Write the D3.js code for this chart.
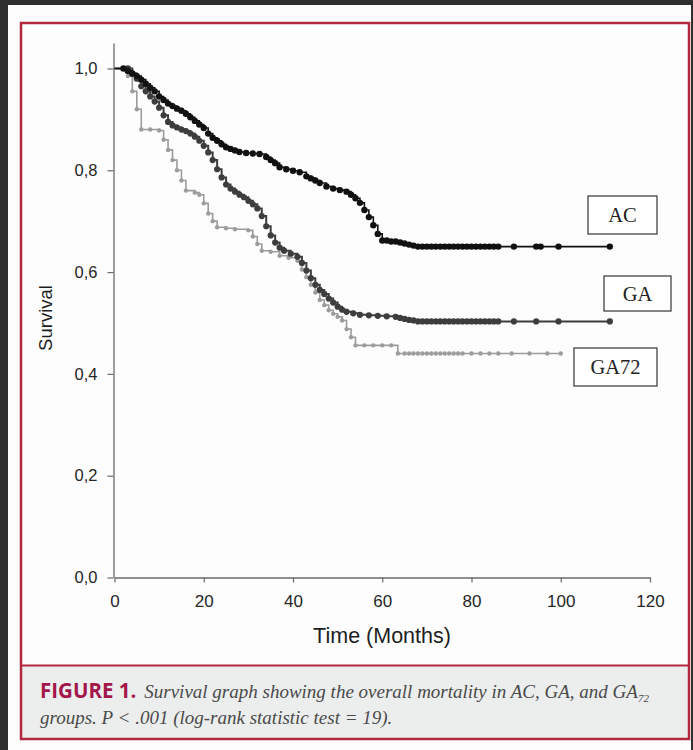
<!DOCTYPE html>
<html>
<head>
<meta charset="utf-8">
<script src="https://cdn.jsdelivr.net/npm/d3@7"></script>
<style>
  body { margin: 0; background: #2e2e2e; }
  svg { display: block; }
</style>
</head>
<body>
<div id="chart"></div>
<script>
// =========== Data (time in months, survival proportion)
var acTime = [0, 2, 3, 4, 5, 6, 7, 8, 9, 10, 11, 12, 13, 14, 15, 16, 17, 18, 19, 20, 21, 22, 23, 24, 25, 26, 27, 28, 29.5, 31, 32.5, 34, 35, 36, 37, 38.5, 40, 41.5, 43, 44, 45, 46, 47.5, 49, 50.5, 52, 53, 54, 55, 56, 57, 58, 59, 60, 61, 62, 63, 64, 65, 66, 67, 68, 69, 70, 71, 72, 73, 74, 75, 76, 77, 78, 79, 80, 81, 82, 83, 84, 85, 86, 89.5, 94.5, 95.5, 99.5, 111];
var acSurv = [1, 1, 0.995, 0.99, 0.985, 0.978, 0.97, 0.962, 0.955, 0.945, 0.938, 0.931, 0.926, 0.921, 0.917, 0.911, 0.904, 0.897, 0.89, 0.883, 0.872, 0.864, 0.858, 0.851, 0.845, 0.842, 0.839, 0.836, 0.834, 0.833, 0.832, 0.826, 0.82, 0.814, 0.806, 0.802, 0.799, 0.796, 0.788, 0.784, 0.78, 0.775, 0.768, 0.764, 0.761, 0.758, 0.752, 0.745, 0.736, 0.722, 0.708, 0.692, 0.675, 0.662, 0.662, 0.66, 0.66, 0.658, 0.656, 0.654, 0.652, 0.65, 0.65, 0.65, 0.65, 0.65, 0.65, 0.65, 0.65, 0.65, 0.65, 0.65, 0.65, 0.65, 0.65, 0.65, 0.65, 0.65, 0.65, 0.65, 0.65, 0.65, 0.65, 0.65, 0.65];

var gaTime = [0, 3, 4, 5, 6, 7, 8, 9, 10, 11, 12, 13, 14, 15, 16, 17, 18, 19, 20, 21, 22, 23, 24, 25, 26, 27, 28, 29, 30, 31, 32, 33, 34, 35, 36, 37, 38, 39.5, 41, 42, 43, 44, 45, 46, 47, 48, 49, 50, 51, 52, 53.5, 55, 57, 59, 61, 63, 64, 65, 66, 67, 68, 69, 70, 71, 72, 73, 74, 75, 76, 77, 78, 79, 80, 81, 82, 83, 84, 85, 86, 89.5, 94.5, 99.5, 111];
var gaSurv = [1, 1, 0.99, 0.98, 0.965, 0.955, 0.945, 0.935, 0.923, 0.908, 0.895, 0.888, 0.884, 0.88, 0.877, 0.872, 0.866, 0.858, 0.848, 0.835, 0.82, 0.802, 0.786, 0.772, 0.764, 0.758, 0.752, 0.747, 0.74, 0.733, 0.725, 0.71, 0.69, 0.672, 0.658, 0.648, 0.642, 0.636, 0.63, 0.618, 0.603, 0.588, 0.575, 0.565, 0.557, 0.548, 0.54, 0.532, 0.526, 0.522, 0.519, 0.516, 0.515, 0.514, 0.513, 0.512, 0.51, 0.508, 0.506, 0.505, 0.503, 0.503, 0.503, 0.503, 0.503, 0.503, 0.503, 0.503, 0.503, 0.503, 0.503, 0.503, 0.503, 0.503, 0.503, 0.503, 0.503, 0.503, 0.503, 0.503, 0.503, 0.503, 0.503];

var ga72Time = [0, 2, 3, 4, 5, 6, 8, 10, 11, 12, 13, 14, 15, 16, 18, 19, 20, 21, 22, 23, 25, 27, 30, 31, 32, 33, 35, 37, 39, 41, 42, 43, 44, 45, 46, 47, 48, 49, 50, 51, 52, 53, 54, 56, 58, 60, 62, 63.5, 65, 66, 67, 68, 69, 70, 71, 72, 73, 74, 75, 76, 77, 78, 80, 82, 84, 86, 89, 93, 97, 100];
var ga72Surv = [1, 1, 0.985, 0.955, 0.92, 0.88, 0.88, 0.878, 0.86, 0.84, 0.82, 0.8, 0.78, 0.76, 0.756, 0.752, 0.735, 0.715, 0.7, 0.688, 0.686, 0.684, 0.682, 0.67, 0.655, 0.642, 0.64, 0.632, 0.628, 0.622, 0.605, 0.59, 0.575, 0.56, 0.545, 0.535, 0.525, 0.518, 0.512, 0.505, 0.488, 0.472, 0.456, 0.456, 0.456, 0.456, 0.456, 0.44, 0.44, 0.44, 0.44, 0.44, 0.44, 0.44, 0.44, 0.44, 0.44, 0.44, 0.44, 0.44, 0.44, 0.44, 0.44, 0.44, 0.44, 0.44, 0.44, 0.44, 0.44, 0.44];

var xTicks = [0, 20, 40, 60, 80, 100, 120];
var yTicks = [0, 0.2, 0.4, 0.6, 0.8, 1.0];
var groupNames = ["AC", "GA", "GA72"];

// ===========Set size
var svgWidth = 693;
var svgHeight = 750;

var svg = d3.select("#chart").append("svg")
    .attr("width", svgWidth)
    .attr("height", svgHeight);

// page background + red frame
svg.append("rect")
    .attr("x", 0).attr("y", 0)
    .attr("width", svgWidth).attr("height", svgHeight)
    .attr("fill", "#2f2f2f");
svg.append("rect")
    .attr("x", 8).attr("y", 5)
    .attr("width", 683).attr("height", 745)
    .attr("fill", "#fdfdfd");
svg.append("rect")
    .attr("x", 21).attr("y", 666)
    .attr("width", 668).attr("height", 73)
    .attr("fill", "#eceeee");
svg.append("rect")
    .attr("x", 21).attr("y", 23)
    .attr("width", 668).attr("height", 716)
    .attr("fill", "none")
    .attr("stroke", "#b2283f")
    .attr("stroke-width", 2.5);
svg.append("line")
    .attr("x1", 21).attr("x2", 689)
    .attr("y1", 665.5).attr("y2", 665.5)
    .attr("stroke", "#b2283f")
    .attr("stroke-width", 2);

// ==========Scales
var xScale = d3.scaleLinear().domain([0, 120]).range([114.5, 650]);
var yScale = d3.scaleLinear().domain([0, 1.05]).range([577.5, 43]);

var fmt = d3.format(".1f");

var xAxis = svg.append("g")
    .attr("transform", "translate(0," + 577.5 + ")")
    .call(d3.axisBottom(xScale).tickValues(xTicks).tickSize(5).tickSizeOuter(0).tickPadding(12));
var yAxis = svg.append("g")
    .attr("transform", "translate(" + 113.5 + ",0)")
    .call(d3.axisLeft(yScale).tickValues(yTicks).tickSize(6).tickSizeOuter(0).tickPadding(10)
        .tickFormat(d => fmt(d).replace(".", ",")));

[xAxis, yAxis].forEach(function(ax) {
    ax.select(".domain").attr("stroke", "#6a6a6a").attr("stroke-width", 1.3);
    ax.selectAll(".tick line").attr("stroke", "#6a6a6a").attr("stroke-width", 1.2);
    ax.selectAll(".tick text")
        .attr("fill", "#262626")
        .style("font-family", "Liberation Sans, Arial, sans-serif");
});
xAxis.selectAll(".tick text").style("font-size", "17px");
yAxis.selectAll(".tick text").style("font-size", "16.5px");

// axis titles
svg.append("text")
    .attr("transform", "translate(52,318) rotate(-90)")
    .attr("text-anchor", "middle")
    .style("font-family", "Liberation Sans, Arial, sans-serif")
    .style("font-size", "18.5px")
    .attr("fill", "#1e1e1e")
    .text("Survival");
svg.append("text")
    .attr("x", 382).attr("y", 643)
    .attr("text-anchor", "middle")
    .style("font-family", "Liberation Sans, Arial, sans-serif")
    .style("font-size", "21.5px")
    .attr("fill", "#1e1e1e")
    .text("Time (Months)");

// ===========Survival curves
var series = [
    { name: groupNames[0], t: acTime, s: acSurv, color: "#111", width: 1.6, r: 3.2 },
    { name: groupNames[1], t: gaTime, s: gaSurv, color: "#3d3d3d", width: 2, r: 3.1 },
    { name: groupNames[2], t: ga72Time, s: ga72Surv, color: "#9c9c9c", width: 1.6, r: 2.2 }
];

var line = d3.line()
    .x(d => xScale(d[0]))
    .y(d => yScale(d[1]))
    .curve(d3.curveStepAfter);

// draw light series first so darker ones sit on top
series.slice().reverse().forEach(function(sr) {
    var pts = sr.t.map((t, i) => [t, sr.s[i]]);
    svg.append("path")
        .datum(pts)
        .attr("fill", "none")
        .attr("stroke", sr.color)
        .attr("stroke-width", sr.width)
        .attr("d", line);
    svg.append("g").selectAll("circle")
        .data(pts.slice(1))
        .enter()
        .append("circle")
        .attr("cx", d => xScale(d[0]))
        .attr("cy", d => yScale(d[1]))
        .attr("r", sr.r)
        .attr("fill", sr.color);
});

// ===========Label boxes
var boxes = [
    { label: "AC", x: 588, y: 196, w: 69, h: 38 },
    { label: "GA", x: 604, y: 276, w: 67, h: 35 },
    { label: "GA72", x: 574, y: 348, w: 83, h: 38 }
];
boxes.forEach(function(b) {
    svg.append("rect")
        .attr("x", b.x).attr("y", b.y)
        .attr("width", b.w).attr("height", b.h)
        .attr("fill", "#fff")
        .attr("stroke", "#444")
        .attr("stroke-width", 1.3);
    svg.append("text")
        .attr("x", b.x + b.w / 2).attr("y", b.y + b.h / 2 + 7)
        .attr("text-anchor", "middle")
        .style("font-family", "Liberation Serif, Times New Roman, serif")
        .style("font-size", "20.5px")
        .attr("fill", "#222")
        .text(b.label);
});

// ===========Caption
var cap1 = svg.append("text")
    .attr("x", 40).attr("y", 698)
    .style("font-family", "Liberation Serif, Times New Roman, serif")
    .style("font-size", "19px");
cap1.append("tspan")
    .style("font-family", "Open Sans, Liberation Sans, sans-serif")
    .style("font-weight", "bold")
    .style("font-size", "20.5px")
    .attr("fill", "#a3174a")
    .text("FIGURE 1.");
cap1.append("tspan")
    .attr("dx", 8)
    .style("font-style", "italic")
    .attr("fill", "#4a4a4a")
    .text("Survival graph showing the overall mortality in AC, GA, and GA");
cap1.append("tspan")
    .attr("dy", 4)
    .style("font-style", "italic")
    .style("font-size", "11px")
    .attr("fill", "#4a4a4a")
    .text("72");

svg.append("text")
    .attr("x", 40).attr("y", 724)
    .style("font-family", "Liberation Serif, Times New Roman, serif")
    .style("font-size", "19px")
    .style("font-style", "italic")
    .attr("fill", "#4a4a4a")
    .text("groups. P < .001 (log-rank statistic test = 19).");
</script>
</body>
</html>
